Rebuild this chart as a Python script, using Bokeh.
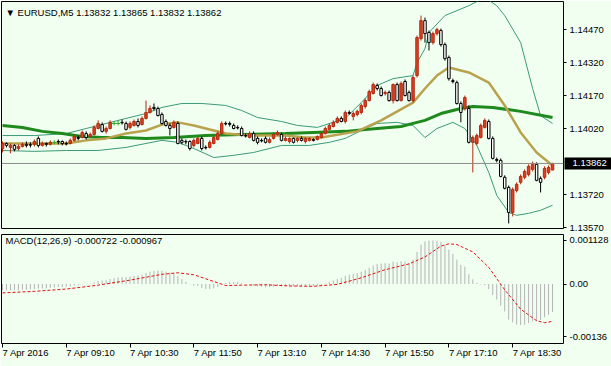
from bokeh.plotting import figure
from bokeh.layouts import column
from bokeh.models import (ColumnDataSource, LinearAxis, FixedTicker, Range1d, Span,
                          Label, NumeralTickFormatter)
from bokeh.embed import file_html
from bokeh.resources import INLINE

# ---------------- data (EURUSD, M5, 7 Apr 2016, 07:50 .. 19:20) ----------------
symbol = "EURUSD,M5"

opens = [1.13930, 1.13953, 1.13935, 1.13944, 1.13930, 1.13939, 1.13949, 1.13947, 1.13949, 1.13976,
         1.13944, 1.13953, 1.13949, 1.13958, 1.13962, 1.13962, 1.13953, 1.13953, 1.13967, 1.13980,
         1.13980, 1.13998, 1.13985, 1.13994, 1.14021, 1.14039, 1.14008, 1.14021, 1.14044, 1.14044,
         1.14049, 1.14044, 1.14026, 1.14035, 1.14053, 1.14039, 1.14067, 1.14094, 1.14117, 1.14112,
         1.14085, 1.14053, 1.14035, 1.14026, 1.14044, 1.13967, 1.13962, 1.13962, 1.13944, 1.13953,
         1.13976, 1.13935, 1.13935, 1.13953, 1.13971, 1.13998, 1.14044, 1.14044, 1.14035, 1.14026,
         1.14021, 1.13989, 1.13980, 1.13998, 1.13976, 1.13967, 1.13976, 1.13958, 1.13976, 1.13994,
         1.13994, 1.13967, 1.13962, 1.13976, 1.13967, 1.13976, 1.13962, 1.13967, 1.13971, 1.13971,
         1.13980, 1.13998, 1.14017, 1.14030, 1.14049, 1.14067, 1.14053, 1.14094, 1.14076, 1.14085,
         1.14094, 1.14121, 1.14148, 1.14180, 1.14217, 1.14203, 1.14180, 1.14185, 1.14148, 1.14221,
         1.14148, 1.14235, 1.14185, 1.14148, 1.14262, 1.14430, 1.14512, 1.14458, 1.14412, 1.14453,
         1.14467, 1.14403, 1.14344, 1.14239, 1.14230, 1.14135, 1.14112, 1.14112, 1.13958, 1.13953,
         1.13980, 1.14026, 1.14053, 1.13976, 1.13880, 1.13876, 1.13799, 1.13753, 1.13639, 1.13739,
         1.13776, 1.13799, 1.13812, 1.13835, 1.13858, 1.13794, 1.13799, 1.13821, 1.13832]

highs = [1.13962, 1.13958, 1.13953, 1.13949, 1.13949, 1.13958, 1.13962, 1.13958, 1.13971, 1.13985,
         1.13962, 1.13958, 1.13967, 1.13967, 1.13971, 1.13967, 1.13962, 1.13976, 1.13994, 1.13989,
         1.14012, 1.14008, 1.14003, 1.14035, 1.14058, 1.14049, 1.14030, 1.14058, 1.14053, 1.14058,
         1.14062, 1.14053, 1.14053, 1.14062, 1.14067, 1.14076, 1.14148, 1.14126, 1.14135, 1.14121,
         1.14094, 1.14062, 1.14044, 1.14058, 1.14053, 1.13976, 1.13971, 1.13967, 1.13976, 1.13985,
         1.13985, 1.13944, 1.13967, 1.13989, 1.14008, 1.14053, 1.14053, 1.14053, 1.14044, 1.14035,
         1.14030, 1.13998, 1.14008, 1.14008, 1.13985, 1.13976, 1.13985, 1.13980, 1.14003, 1.14012,
         1.14003, 1.13985, 1.13980, 1.13980, 1.13980, 1.13985, 1.13980, 1.13980, 1.13976, 1.13989,
         1.14008, 1.14030, 1.14044, 1.14058, 1.14076, 1.14076, 1.14103, 1.14103, 1.14099, 1.14107,
         1.14135, 1.14158, 1.14198, 1.14230, 1.14226, 1.14212, 1.14194, 1.14194, 1.14226, 1.14230,
         1.14235, 1.14244, 1.14194, 1.14262, 1.14444, 1.14535, 1.14526, 1.14467, 1.14462, 1.14480,
         1.14476, 1.14412, 1.14353, 1.14248, 1.14239, 1.14144, 1.14171, 1.14126, 1.13989, 1.13998,
         1.14044, 1.14067, 1.14062, 1.13985, 1.13889, 1.13885, 1.13808, 1.13762, 1.13753, 1.13776,
         1.13812, 1.13835, 1.13858, 1.13871, 1.13867, 1.13803, 1.13849, 1.13853, 1.13865]

lows = [1.13912, 1.13935, 1.13908, 1.13917, 1.13921, 1.13935, 1.13935, 1.13935, 1.13939, 1.13935,
        1.13939, 1.13939, 1.13944, 1.13949, 1.13949, 1.13944, 1.13944, 1.13949, 1.13962, 1.13967,
        1.13976, 1.13971, 1.13980, 1.13989, 1.14017, 1.14003, 1.13998, 1.14017, 1.14035, 1.14035,
        1.14039, 1.14012, 1.14017, 1.14030, 1.14026, 1.14035, 1.14062, 1.14089, 1.14103, 1.14076,
        1.14039, 1.14030, 1.13989, 1.14021, 1.13949, 1.13949, 1.13949, 1.13921, 1.13935, 1.13949,
        1.13921, 1.13926, 1.13930, 1.13949, 1.13967, 1.13994, 1.14035, 1.14030, 1.14017, 1.14017,
        1.13985, 1.13980, 1.13976, 1.13962, 1.13949, 1.13958, 1.13953, 1.13953, 1.13971, 1.13989,
        1.13962, 1.13962, 1.13953, 1.13953, 1.13958, 1.13962, 1.13953, 1.13962, 1.13962, 1.13967,
        1.13976, 1.13994, 1.14012, 1.14026, 1.14044, 1.14049, 1.14044, 1.14085, 1.14058, 1.14076,
        1.14085, 1.14112, 1.14144, 1.14176, 1.14194, 1.14167, 1.14171, 1.14144, 1.14135, 1.14144,
        1.14144, 1.14167, 1.14144, 1.14139, 1.14253, 1.14421, 1.14412, 1.14376, 1.14403, 1.14444,
        1.14394, 1.14330, 1.14239, 1.14226, 1.14130, 1.14049, 1.14103, 1.13953, 1.13821, 1.13944,
        1.13976, 1.14021, 1.13971, 1.13880, 1.13867, 1.13799, 1.13744, 1.13589, 1.13621, 1.13730,
        1.13767, 1.13790, 1.13803, 1.13826, 1.13781, 1.13730, 1.13790, 1.13812, 1.13832]

closes = [1.13953, 1.13944, 1.13944, 1.13926, 1.13939, 1.13949, 1.13944, 1.13946, 1.13962, 1.13944,
          1.13953, 1.13949, 1.13958, 1.13958, 1.13960, 1.13953, 1.13951, 1.13967, 1.13985, 1.13976,
          1.14003, 1.13980, 1.13994, 1.14026, 1.14044, 1.14008, 1.14021, 1.14049, 1.14044, 1.14044,
          1.14047, 1.14017, 1.14044, 1.14053, 1.14035, 1.14067, 1.14094, 1.14112, 1.14112, 1.14080,
          1.14044, 1.14035, 1.14021, 1.14049, 1.13953, 1.13958, 1.13960, 1.13930, 1.13967, 1.13976,
          1.13930, 1.13933, 1.13958, 1.13980, 1.13998, 1.14044, 1.14042, 1.14040, 1.14021, 1.14024,
          1.13989, 1.13987, 1.13998, 1.13967, 1.13958, 1.13965, 1.13958, 1.13971, 1.13994, 1.14003,
          1.13967, 1.13976, 1.13976, 1.13958, 1.13976, 1.13967, 1.13976, 1.13976, 1.13967, 1.13985,
          1.13998, 1.14021, 1.14035, 1.14049, 1.14067, 1.14053, 1.14094, 1.14090, 1.14089, 1.14099,
          1.14126, 1.14148, 1.14189, 1.14221, 1.14203, 1.14171, 1.14185, 1.14148, 1.14221, 1.14148,
          1.14226, 1.14171, 1.14148, 1.14253, 1.14435, 1.14512, 1.14453, 1.14412, 1.14453, 1.14471,
          1.14403, 1.14339, 1.14248, 1.14235, 1.14135, 1.14094, 1.14162, 1.13958, 1.13980, 1.13989,
          1.14035, 1.14058, 1.13976, 1.13885, 1.13876, 1.13803, 1.13749, 1.13639, 1.13744, 1.13767,
          1.13803, 1.13826, 1.13849, 1.13862, 1.13785, 1.13776, 1.13839, 1.13844, 1.13862]

# slow moving average (thick green), read at sample bars
ma_slow_bar = [0, 5, 10, 15, 20, 25, 30, 36, 43, 51, 60, 71, 78, 86, 94, 100, 104, 106, 110, 115, 118, 123, 130, 138]
ma_slow_val = [1.14035, 1.14026, 1.14008, 1.13998, 1.13985, 1.13980, 1.13980, 1.13976, 1.13980, 1.13989,
               1.13994, 1.13998, 1.14003, 1.14008, 1.14021, 1.14030, 1.14049, 1.14058, 1.14089, 1.14112,
               1.14121, 1.14117, 1.14099, 1.14071]

# fast moving average (tan)
ma_fast_bar = [0, 8, 16, 21, 26, 31, 36, 40, 44, 48, 53, 56, 62, 68, 71, 76, 80, 89, 95, 103, 106, 109,
               112, 117, 122, 126, 130, 134, 138]
ma_fast_val = [1.13953, 1.13953, 1.13953, 1.13967, 1.13976, 1.13998, 1.14012, 1.14039, 1.14049, 1.14035,
               1.14012, 1.13998, 1.13989, 1.13989, 1.13989, 1.13980, 1.13980, 1.14008, 1.14058, 1.14139,
               1.14203, 1.14262, 1.14299, 1.14276, 1.14230, 1.14126, 1.14003, 1.13912, 1.13853]

# Bollinger bands
bb_up_bar = [0, 8, 16, 21, 26, 31, 36, 40, 45, 50, 56, 60, 64, 70, 74, 79, 86, 90, 94, 98, 103, 104,
             106, 107, 111, 117, 121, 124, 126, 130, 133, 135, 138]
bb_up_val = [1.13989, 1.13989, 1.13998, 1.14021, 1.14044, 1.14067, 1.14089, 1.14117, 1.14135, 1.14135,
             1.14126, 1.14103, 1.14071, 1.14053, 1.14035, 1.14026, 1.14067, 1.14139, 1.14217, 1.14248,
             1.14262, 1.14320, 1.14385, 1.14458, 1.14535, 1.14580, 1.14617, 1.14580, 1.14535, 1.14412,
             1.14203, 1.14080, 1.14044]
bb_lo_bar = [0, 8, 16, 24, 31, 36, 40, 44, 48, 53, 58, 63, 70, 77, 82, 86, 91, 94, 99, 103, 106, 109,
             113, 116, 119, 122, 124, 127, 129, 132, 135, 138]
bb_lo_val = [1.13921, 1.13917, 1.13921, 1.13921, 1.13935, 1.13953, 1.13967, 1.13958, 1.13930, 1.13889,
             1.13899, 1.13912, 1.13944, 1.13944, 1.13958, 1.13976, 1.14021, 1.14044, 1.14049, 1.14035,
             1.13980, 1.14021, 1.14049, 1.14021, 1.13944, 1.13821, 1.13717, 1.13639, 1.13626, 1.13635,
             1.13649, 1.13672]

# MACD(12,26,9) main value per bar
macd_main = [-0.00016, -0.00016, -0.00016, -0.00016, -0.00016, -0.00015, -0.00015, -0.00014, -0.00013, -0.00012,
             -0.00012, -0.00011, -0.00010, -0.00009, -0.00008, -0.00008, -0.00007, -0.00006, -0.00004, -0.00003,
             -0.00001, 0.00000, 0.00001, 0.00004, 0.00008, 0.00009, 0.00010, 0.00013, 0.00015, 0.00017,
             0.00018, 0.00018, 0.00019, 0.00021, 0.00022, 0.00024, 0.00028, 0.00032, 0.00034, 0.00035,
             0.00034, 0.00032, 0.00030, 0.00029, 0.00021, 0.00013, 0.00006, -0.00001, -0.00004, -0.00005,
             -0.00010, -0.00013, -0.00013, -0.00011, -0.00008, -0.00001, 0.00003, 0.00005, 0.00005, 0.00005,
             0.00002, 0.00000, -0.00001, -0.00004, -0.00006, -0.00007, -0.00008, -0.00008, -0.00007, -0.00005,
             -0.00006, -0.00006, -0.00006, -0.00006, -0.00006, -0.00006, -0.00006, -0.00006, -0.00005, -0.00004,
             -0.00002, 0.00001, 0.00005, 0.00009, 0.00013, 0.00016, 0.00021, 0.00024, 0.00026, 0.00028,
             0.00032, 0.00036, 0.00042, 0.00048, 0.00052, 0.00053, 0.00054, 0.00053, 0.00058, 0.00056,
             0.00059, 0.00058, 0.00055, 0.00063, 0.00083, 0.00102, 0.00110, 0.00112, 0.001128, 0.00112,
             0.00109, 0.00102, 0.00089, 0.00078, 0.00063, 0.00049, 0.00045, 0.00025, 0.00012, 0.00003,
             -0.00001, -0.00003, -0.00013, -0.00028, -0.00040, -0.00056, -0.00071, -0.00092, -0.00099, -0.00105,
             -0.00106, -0.00105, -0.00101, -0.00096, -0.00096, -0.00093, -0.00086, -0.00080, -0.000722]

# MACD signal line, read at sample bars
signal_bar = [0, 8, 16, 24, 32, 40, 44, 48, 52, 56, 60, 66, 72, 78, 84, 90, 96, 102, 106, 110, 112, 114,
              118, 122, 126, 130, 134, 136, 138]
signal_val = [-0.00023, -0.00019, -0.00013, -0.00003, 0.00010, 0.00025, 0.00029, 0.00024, 0.00010, -0.00004,
              -0.00003, -0.00002, -0.00005, -0.00006, -0.00001, 0.00016, 0.00037, 0.00052, 0.00070, 0.00098,
              0.00104, 0.00102, 0.00083, 0.00043, -0.00015, -0.00065, -0.00095, -0.00100, -0.000967]

price_ticks = [1.13570, 1.13720, 1.14020, 1.14170, 1.14320, 1.14470]
macd_ticks = [-0.00136, 0.0, 0.001128]
macd_tick_text = ["-0.00136", "0.00", "0.001128"]
time_ticks = [0, 16, 32, 48, 64, 80, 96, 112, 128]
time_labels = ["7 Apr 2016", "7 Apr 09:10", "7 Apr 10:30", "7 Apr 11:50", "7 Apr 13:10",
               "7 Apr 14:30", "7 Apr 15:50", "7 Apr 17:10", "7 Apr 18:30"]

# ---------------- styling ----------------
BG = "#F0FFF0"
FONT = "Liberation Sans"
FS = "9.5px"
BULL_FILL = "#DC4122"
BULL_LINE = "#B42A10"
W = 611

n = len(closes)
bars = list(range(n))


def subset(cond):
    ii = [i for i in bars if cond(i)]
    return ColumnDataSource(dict(x=ii, o=[opens[i] for i in ii], c=[closes[i] for i in ii],
                                 h=[highs[i] for i in ii], l=[lows[i] for i in ii]))


xr = Range1d(-0.25, 140.75)

p = figure(width=W, height=234, output_backend="svg", toolbar_location=None,
           x_range=xr, y_range=Range1d(1.13566, 1.14599),
           x_axis_location=None, y_axis_location=None,
           min_border_left=1, min_border_right=46, min_border_top=1, min_border_bottom=6,
           background_fill_color=BG, border_fill_color=BG,
           outline_line_color="black", outline_line_width=1)

# indicators behind candles
p.line(bb_up_bar, bb_up_val, line_color="#3C9A78", line_width=1)
p.line(bb_lo_bar, bb_lo_val, line_color="#3C9A78", line_width=1)
p.line(ma_slow_bar, ma_slow_val, line_color="#1E8A1E", line_width=3)
p.line(ma_fast_bar, ma_fast_val, line_color="#B9A24E", line_width=2.5)

p.add_layout(Span(location=closes[-1], dimension="width", line_color="#8C8C8C", line_width=1))

up = subset(lambda i: closes[i] > opens[i])
dn = subset(lambda i: closes[i] < opens[i])
dj = subset(lambda i: closes[i] == opens[i])

p.segment(x0="x", y0="h", x1="x", y1="l", source=dn, line_color="black", line_width=1)
p.vbar(x="x", width=0.62, top="o", bottom="c", source=dn, fill_color="white", line_color="black", line_width=1)
p.segment(x0="x", y0="h", x1="x", y1="l", source=up, line_color=BULL_LINE, line_width=1)
p.vbar(x="x", width=0.62, top="c", bottom="o", source=up, fill_color=BULL_FILL, line_color=BULL_LINE, line_width=1)
p.segment(x0="x", y0="h", x1="x", y1="l", source=dj, line_color="#22B022", line_width=1)
p.dash(x="x", y="c", size=4, source=dj, line_color="#22B022", line_width=1)

# price scale (next to the frame)
pa = LinearAxis(ticker=FixedTicker(ticks=price_ticks), formatter=NumeralTickFormatter(format="0.00000"))
p.add_layout(pa, "right")
# current price box: a second axis outside the first one whose single tick is drawn
# inwards as a thick black bar reaching back to the frame edge, with a white label on it
pb = LinearAxis(ticker=FixedTicker(ticks=[closes[-1]]), formatter=NumeralTickFormatter(format="0.00000"))
p.add_layout(pb, "right")

p.add_layout(Label(x=4, y=216, x_units="screen", y_units="screen",
                   text="\u25BC " + symbol + "  " + " ".join(f"{v:.5f}" for v in (opens[-1], highs[-1], lows[-1], closes[-1])),
                   text_font=FONT, text_font_size=FS, text_color="black", text_baseline="middle"))

# ---------------- MACD panel ----------------
q = figure(width=W, height=132, output_backend="svg", toolbar_location=None,
           x_range=xr, y_range=Range1d(-0.001538, 0.001280),
           x_axis_location=None, y_axis_location=None,
           min_border_left=1, min_border_right=46, min_border_top=0, min_border_bottom=20,
           background_fill_color=BG, border_fill_color=BG,
           outline_line_color="black", outline_line_width=1)

q.segment(x0=bars, y0=[0.0] * n, x1=bars, y1=macd_main, line_color="#B4B4B4", line_width=1)
q.line(signal_bar, signal_val, line_color="#E01010", line_width=1, line_dash="3 2")

ma = LinearAxis(ticker=FixedTicker(ticks=macd_ticks),
                major_label_overrides=dict(zip(macd_ticks, macd_tick_text)))
q.add_layout(ma, "right")
ta = LinearAxis(ticker=FixedTicker(ticks=time_ticks),
                major_label_overrides=dict(zip(time_ticks, time_labels)))
q.add_layout(ta, "below")

q.add_layout(Label(x=4, y=103, x_units="screen", y_units="screen",
                   text=f"MACD(12,26,9) {macd_main[-1]:.6f} {signal_val[-1]:.6f}",
                   text_font=FONT, text_font_size=FS, text_color="black", text_baseline="middle"))

for ax in (pa, pb, ma, ta):
    ax.axis_line_color = None
    ax.major_tick_line_color = "black"
    ax.major_tick_out = 3
    ax.major_tick_in = 0
    ax.minor_tick_line_color = None
    ax.major_label_text_font = FONT
    ax.major_label_text_font_size = FS
    ax.major_label_text_color = "black"
    ax.major_label_standoff = 3

pb.major_tick_in = 42
pb.major_tick_out = 6
pb.major_tick_line_width = 12
pb.major_label_standoff = -40
pb.major_label_text_color = "white"

ta.major_tick_out = 4
ta.major_label_standoff = 5
ta.major_label_orientation = -0.0001

for f in (p, q):
    f.grid.visible = False

layout = column(p, q, spacing=0)
open("out.html", "w").write(file_html(layout, INLINE))
